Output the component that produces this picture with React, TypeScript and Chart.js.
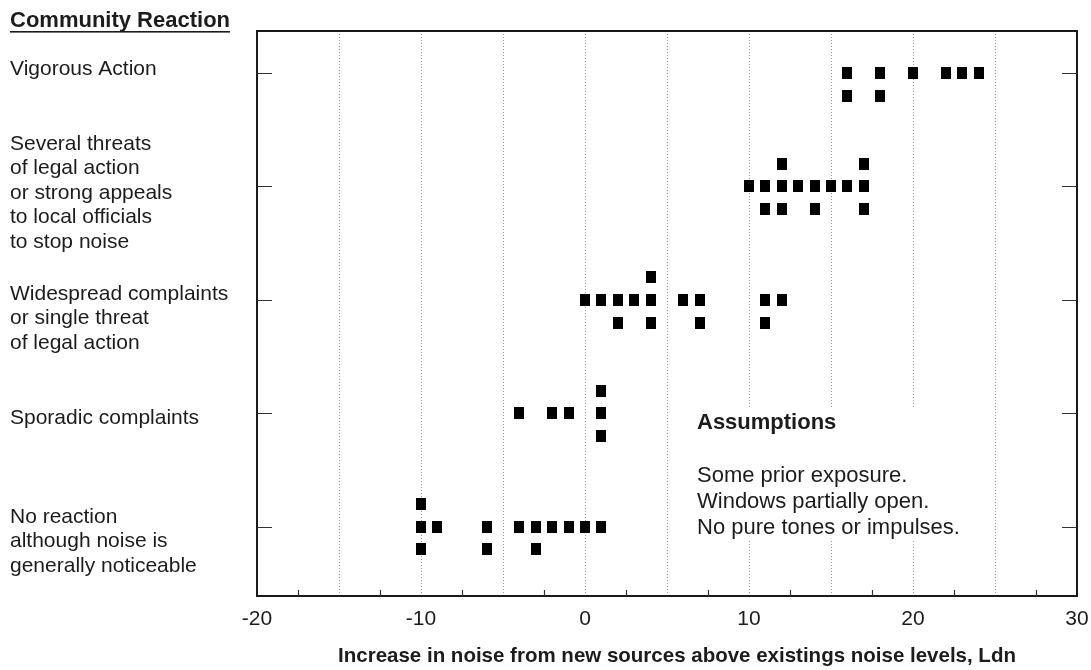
import React, { useEffect, useRef } from 'react';
import { Chart, registerables } from 'chart.js';

Chart.register(...registerables);

// ---- Data ----
// Reaction levels (0 = lowest), with their multi-line labels
const reactionLabels: string[][] = [
  ['No reaction', 'although noise is', 'generally noticeable'],
  ['Sporadic complaints'],
  ['Widespread complaints', 'or single threat', 'of legal action'],
  ['Several threats', 'of legal action', 'or strong appeals', 'to local officials', 'to stop noise'],
  ['Vigorous Action'],
];

// Increase in noise (Ldn) for each case; stacked rows (upper / middle / lower)
const noReactionUpper = [-10];
const noReactionMiddle = [-10, -9, -6, -4, -3, -2, -1, 0, 1];
const noReactionLower = [-10, -6, -3];

const sporadicUpper = [1];
const sporadicMiddle = [-4, -2, -1, 1];
const sporadicLower = [1];

const widespreadUpper = [4];
const widespreadMiddle = [0, 1, 2, 3, 4, 6, 7, 11, 12];
const widespreadLower = [2, 4, 7, 11];

const severalUpper = [12, 17];
const severalMiddle = [10, 11, 12, 13, 14, 15, 16, 17];
const severalLower = [11, 12, 14, 17];

const vigorousUpper: number[] = [];
const vigorousMiddle = [16, 18, 20, 22, 23, 24];
const vigorousLower = [16, 18];

const xLabelValues = [-20, -10, 0, 10, 20, 30];
const xMinorTicks = [-17.5, -12.5, -7.5, -2.5, 2.5, 7.5, 12.5, 17.5, 22.5, 27.5];

const chartTitle = 'Community Reaction';
const xTitle = 'Increase in noise from new sources above existings noise levels, Ldn';
const assumptionsTitle = 'Assumptions';
const assumptionsLines = ['Some prior exposure.', 'Windows partially open.', 'No pure tones or impulses.'];

// ---- Styling / layout constants ----
const FONT = '"Liberation Sans", Arial, Helvetica, sans-serif';
const TEXT = '#1c1c1c';
const ROW_STEP = 0.2;
// first-line baseline offset (px) relative to each level's tick
const labelBaselineOffsets = [-4, 10.5, 0, -36.5, 2];
const LABEL_LINE_H = 24.5;

function buildRows(level: number, upper: number[], middle: number[], lower: number[]) {
  const pts: { x: number; y: number }[] = [];
  upper.forEach((v) => pts.push({ x: v, y: level + ROW_STEP }));
  middle.forEach((v) => pts.push({ x: v, y: level }));
  lower.forEach((v) => pts.push({ x: v, y: level - ROW_STEP }));
  return pts;
}

const decorPlugin = {
  id: 'decor',
  beforeDatasetsDraw(chart: any) {
    const { ctx, scales } = chart;
    const x = scales.x;
    const y = scales.y;
    // white panel behind the assumptions text (hides grid lines)
    const l = x.getPixelForValue(5.6);
    const r = x.getPixelForValue(24.4);
    const t = y.getPixelForValue(1.05);
    const b = y.getPixelForValue(-0.12);
    ctx.save();
    ctx.fillStyle = '#ffffff';
    ctx.fillRect(l, t, r - l, b - t);
    ctx.restore();
  },
  afterDraw(chart: any) {
    const { ctx, chartArea, scales } = chart;
    const x = scales.x;
    const y = scales.y;
    const { left, right, top, bottom } = chartArea;
    ctx.save();

    // frame
    ctx.strokeStyle = '#1a1a1a';
    ctx.lineWidth = 2;
    ctx.strokeRect(left, top, right - left, bottom - top);

    // inward ticks on left and right at each level
    ctx.lineWidth = 1.2;
    ctx.strokeStyle = '#333';
    reactionLabels.forEach((_, i) => {
      const py = Math.round(y.getPixelForValue(i)) + 0.5;
      ctx.beginPath();
      ctx.moveTo(left, py);
      ctx.lineTo(left + 15, py);
      ctx.moveTo(right - 15, py);
      ctx.lineTo(right, py);
      ctx.stroke();
    });
    // bottom minor ticks
    xMinorTicks.forEach((v) => {
      const px = Math.round(x.getPixelForValue(v)) + 0.5;
      ctx.beginPath();
      ctx.moveTo(px, bottom);
      ctx.lineTo(px, bottom - 6);
      ctx.stroke();
    });

    // left category labels
    ctx.fillStyle = TEXT;
    ctx.font = `21px ${FONT}`;
    ctx.textAlign = 'left';
    ctx.textBaseline = 'alphabetic';
    reactionLabels.forEach((lines, i) => {
      const base = y.getPixelForValue(i) + labelBaselineOffsets[i];
      lines.forEach((line, j) => {
        ctx.fillText(line, 10, base + j * LABEL_LINE_H);
      });
    });

    // chart title with underline
    ctx.font = `bold 22px ${FONT}`;
    ctx.fillText(chartTitle, 10, 27);
    const tw = ctx.measureText(chartTitle).width;
    ctx.fillRect(10, 31, tw, 1.6);

    // assumptions
    ctx.font = `bold 22px ${FONT}`;
    ctx.fillText(assumptionsTitle, 697, 429);
    ctx.font = `22px ${FONT}`;
    assumptionsLines.forEach((line, j) => {
      ctx.fillText(line, 697, 482 + j * 26);
    });

    // x-axis title
    ctx.font = `bold 20.5px ${FONT}`;
    ctx.textAlign = 'center';
    ctx.fillText(xTitle, 677, 662);

    ctx.restore();
  },
};

export default function App() {
  const ref = useRef<HTMLCanvasElement | null>(null);

  useEffect(() => {
    if (!ref.current) return;
    const marker = document.createElement('canvas');
    marker.width = 10;
    marker.height = 12;
    const mctx = marker.getContext('2d')!;
    mctx.fillStyle = '#000000';
    mctx.fillRect(0, 0, 10, 12);

    const groups = [
      buildRows(0, noReactionUpper, noReactionMiddle, noReactionLower),
      buildRows(1, sporadicUpper, sporadicMiddle, sporadicLower),
      buildRows(2, widespreadUpper, widespreadMiddle, widespreadLower),
      buildRows(3, severalUpper, severalMiddle, severalLower),
      buildRows(4, vigorousUpper, vigorousMiddle, vigorousLower),
    ];

    const chart = new Chart(ref.current, {
      type: 'scatter',
      data: {
        datasets: groups.map((pts, i) => ({
          label: reactionLabels[i].join(' '),
          data: pts,
          pointStyle: marker as any,
          pointRadius: 5,
          backgroundColor: '#000',
          borderColor: '#000',
        })),
      },
      options: {
        responsive: false,
        animation: false,
        events: [],
        layout: { padding: { left: 257, right: 14, top: 31, bottom: 0 } },
        plugins: { legend: { display: false }, tooltip: { enabled: false } },
        scales: {
          x: {
            type: 'linear',
            min: -20,
            max: 30,
            afterFit: (s: any) => {
              s.height = 74;
              s.paddingLeft = 0;
              s.paddingRight = 0;
            },
            ticks: {
              stepSize: 5,
              autoSkip: false,
              maxRotation: 0,
              padding: 11,
              color: TEXT,
              font: { family: FONT, size: 21 },
              callback: (v: any) => (xLabelValues.includes(Number(v)) ? String(v) : ''),
            },
            grid: {
              drawTicks: false,
              lineWidth: 1,
              color: (c: any) => (c.tick && (c.tick.value === -20 || c.tick.value === 30) ? 'rgba(0,0,0,0)' : '#9a9a9a'),
            },
            border: { display: false, dash: [1, 2] },
          },
          y: {
            type: 'linear',
            min: -0.61,
            max: 4.37,
            display: false,
          },
        },
      },
      plugins: [decorPlugin],
    });
    return () => chart.destroy();
  }, []);

  return (
    <div style={{ position: 'fixed', left: 0, top: 0, width: 1091, height: 670, background: '#fff' }}>
      <canvas ref={ref} width={1091} height={670} style={{ display: 'block' }} />
    </div>
  );
}
